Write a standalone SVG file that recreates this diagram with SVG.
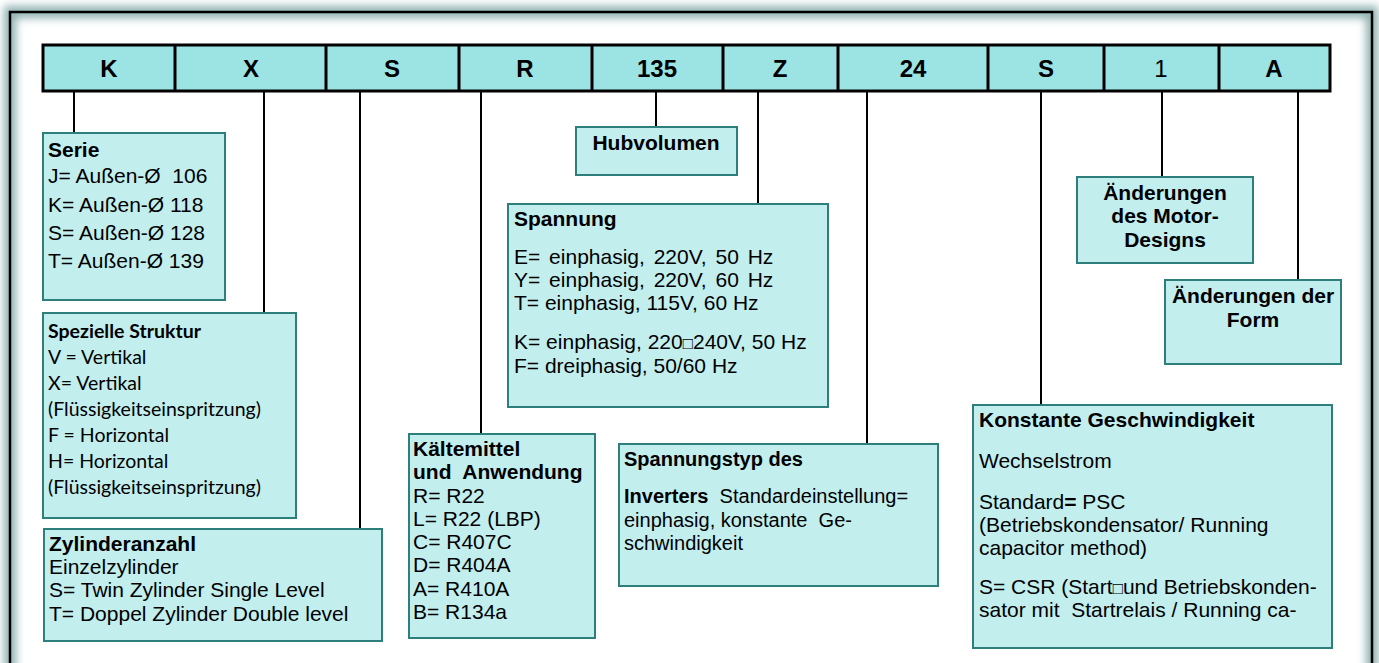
<svg xmlns="http://www.w3.org/2000/svg" width="1379" height="663" viewBox="0 0 1379 663">
<defs>
<filter id="glow" x="-5%" y="-5%" width="110%" height="110%"><feGaussianBlur stdDeviation="4"/></filter>
<style>
text{font-family:"Liberation Sans",Arial,sans-serif;font-size:21px;fill:#000;}
.b{font-weight:bold;}
.code{font-weight:bold;font-size:24px;text-anchor:middle;}
.box{fill:#C3EEEE;stroke:#2E7F7C;stroke-width:2;}
.cal{font-family:Lato,"Open Sans",sans-serif;font-size:19.5px;}
.c{text-anchor:middle;}
.pre{white-space:pre;}
.s20{font-size:20px;}
.conn line{stroke:#000;stroke-width:2;}
</style>
</defs>
<rect width="1379" height="663" fill="#fff"/>
<rect x="10" y="12" width="1362" height="690" fill="none" stroke="#8EB0B0" stroke-width="12" filter="url(#glow)"/>
<rect x="10" y="12" width="1362" height="690" fill="none" stroke="#000" stroke-width="2.5"/>

<g id="codebar">
<rect x="43" y="45" width="1287" height="46" fill="#9CE3E4" stroke="#000" stroke-width="3"/>
<g stroke="#000" stroke-width="3">
<line x1="175" y1="45" x2="175" y2="91"/><line x1="326" y1="45" x2="326" y2="91"/>
<line x1="459" y1="45" x2="459" y2="91"/><line x1="592" y1="45" x2="592" y2="91"/>
<line x1="723" y1="45" x2="723" y2="91"/><line x1="838" y1="45" x2="838" y2="91"/>
<line x1="988" y1="45" x2="988" y2="91"/><line x1="1104" y1="45" x2="1104" y2="91"/>
<line x1="1219" y1="45" x2="1219" y2="91"/>
</g>
<text class="code" x="109" y="77">K</text>
<text class="code" x="251" y="77">X</text>
<text class="code" x="392" y="77">S</text>
<text class="code" x="525" y="77">R</text>
<text class="code" x="657" y="77">135</text>
<text class="code" x="780" y="77">Z</text>
<text class="code" x="913" y="77">24</text>
<text class="code" x="1046" y="77">S</text>
<text class="c" x="1161" y="77" style="font-size:24px">1</text>
<text class="code" x="1274" y="77">A</text>
</g>

<g class="conn" id="connectors">
<line x1="74" y1="91" x2="74" y2="133"/>
<line x1="264" y1="91" x2="264" y2="313"/>
<line x1="360" y1="91" x2="360" y2="529"/>
<line x1="481" y1="91" x2="481" y2="434"/>
<line x1="656" y1="91" x2="656" y2="127"/>
<line x1="758" y1="91" x2="758" y2="204"/>
<line x1="867" y1="91" x2="867" y2="444"/>
<line x1="1041" y1="91" x2="1041" y2="405"/>
<line x1="1162" y1="91" x2="1162" y2="177"/>
<line x1="1298" y1="91" x2="1298" y2="280"/>
</g>

<g id="serie">
<rect class="box" x="43" y="133" width="182" height="167"/>
<text class="b" x="48" y="157">Serie</text>
<text class="pre" x="48" y="183">J= Außen-Ø  106</text>
<text x="48" y="212">K= Außen-Ø 118</text>
<text x="48" y="240">S= Außen-Ø 128</text>
<text x="48" y="268">T= Außen-Ø 139</text>
</g>

<g id="spezielle">
<rect class="box" x="43" y="313" width="253" height="205"/>
<text class="cal b" x="48" y="338">Spezielle Struktur</text>
<text class="cal" x="48" y="364">V = Vertikal</text>
<text class="cal" x="48" y="390">X= Vertikal</text>
<text class="cal" x="48" y="416">(Flüssigkeitseinspritzung)</text>
<text class="cal" x="48" y="442">F = Horizontal</text>
<text class="cal" x="48" y="468">H= Horizontal</text>
<text class="cal" x="48" y="494">(Flüssigkeitseinspritzung)</text>
</g>

<g id="zylinder">
<rect class="box" x="44" y="529" width="338" height="112"/>
<text class="b" x="49" y="551">Zylinderanzahl</text>
<text x="49" y="574">Einzelzylinder</text>
<text x="49" y="597">S= Twin Zylinder Single Level</text>
<text x="49" y="621">T= Doppel Zylinder Double level</text>
</g>

<g id="kaeltemittel">
<rect class="box" x="409" y="434" width="186" height="204"/>
<text class="b" x="413" y="456">Kältemittel</text>
<text class="b pre" x="413" y="479">und  Anwendung</text>
<text x="413" y="503">R= R22</text>
<text x="413" y="526">L= R22 (LBP)</text>
<text x="413" y="549">C= R407C</text>
<text x="413" y="572">D= R404A</text>
<text x="413" y="596">A= R410A</text>
<text x="413" y="619">B= R134a</text>
</g>

<g id="hubvolumen">
<rect class="box" x="576" y="127" width="161" height="48"/>
<text class="b c" x="656" y="150">Hubvolumen</text>
</g>

<g id="spannung">
<rect class="box" x="508" y="204" width="320" height="203"/>
<text class="b" x="514" y="226">Spannung</text>
<text x="514" y="264" word-spacing="3">E= einphasig, 220V, 50 Hz</text>
<text x="514" y="287" word-spacing="3">Y= einphasig, 220V, 60 Hz</text>
<text x="514" y="310">T= einphasig, 115V, 60 Hz</text>
<text x="514" y="349">K= einphasig, 220<tspan style="font-size:17px">□</tspan>240V, 50 Hz</text>
<text x="514" y="373">F= dreiphasig, 50/60 Hz</text>
</g>

<g id="spannungstyp">
<rect class="box" x="619" y="444" width="319" height="142"/>
<text class="b s20" x="624" y="466">Spannungstyp des</text>
<text class="pre s20" x="624" y="503"><tspan class="b">Inverters</tspan>  Standardeinstellung=</text>
<text class="pre s20" x="624" y="527">einphasig, konstante  Ge-</text>
<text class="s20" x="624" y="550">schwindigkeit</text>
</g>

<g id="konstante">
<rect class="box" x="973" y="405" width="359" height="243"/>
<text class="b" x="979" y="427">Konstante Geschwindigkeit</text>
<text x="979" y="468">Wechselstrom</text>
<text x="979" y="509">Standard<tspan class="b">=</tspan> PSC</text>
<text x="979" y="532">(Betriebskondensator/ Running</text>
<text x="979" y="555">capacitor method)</text>
<text x="979" y="594">S= CSR (Start<tspan style="font-size:17px">□</tspan>und Betriebskonden-</text>
<text class="pre" x="979" y="617">sator mit  Startrelais / Running ca-</text>
</g>

<g id="motor">
<rect class="box" x="1077" y="177" width="176" height="86"/>
<text class="b c" x="1165" y="200">Änderungen</text>
<text class="b c" x="1165" y="223">des Motor-</text>
<text class="b c" x="1165" y="247">Designs</text>
</g>

<g id="form">
<rect class="box" x="1165" y="280" width="176" height="84"/>
<text class="b c" x="1253" y="303">Änderungen der</text>
<text class="b c" x="1253" y="327">Form</text>
</g>
</svg>
